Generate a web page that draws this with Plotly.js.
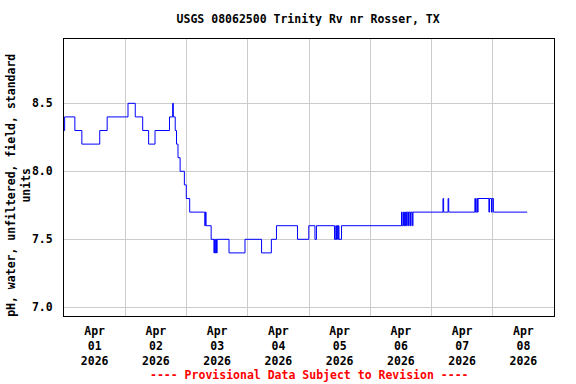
<!DOCTYPE html>
<html>
<head>
<meta charset="utf-8">
<script src="https://cdn.plot.ly/plotly-3.0.1.min.js"></script>
<style>html,body{margin:0;padding:0;background:#fff;}#chart{width:576px;height:384px;}</style>
</head>
<body>
<div id="chart"></div>
<script>
// Step breakpoints of the pH record (value holds until next time)
const times = [
  '2026-04-01 00:00','2026-04-01 00:15','2026-04-01 04:15','2026-04-01 07:00','2026-04-01 14:00','2026-04-01 16:55',
  '2026-04-02 01:05','2026-04-02 03:55','2026-04-02 06:50','2026-04-02 09:10','2026-04-02 11:40','2026-04-02 17:20',
  '2026-04-02 18:35','2026-04-02 18:50','2026-04-02 19:35','2026-04-02 20:05','2026-04-02 20:40','2026-04-02 21:30',
  '2026-04-02 23:10','2026-04-02 23:55',
  '2026-04-03 01:15','2026-04-03 07:10','2026-04-03 07:25','2026-04-03 07:40','2026-04-03 09:40',
  '2026-04-03 10:45','2026-04-03 11:00','2026-04-03 11:15','2026-04-03 11:30','2026-04-03 11:45','2026-04-03 12:00',
  '2026-04-03 16:40','2026-04-03 22:55',
  '2026-04-04 05:25','2026-04-04 09:15','2026-04-04 11:15','2026-04-04 19:30','2026-04-04 23:55',
  '2026-04-05 02:20','2026-04-05 02:55','2026-04-05 10:00','2026-04-05 10:30','2026-04-05 10:45','2026-04-05 11:00',
  '2026-04-05 11:15','2026-04-05 11:30','2026-04-05 11:45','2026-04-05 12:45',
  '2026-04-06 12:15','2026-04-06 12:30','2026-04-06 13:00','2026-04-06 13:15','2026-04-06 13:30','2026-04-06 13:45',
  '2026-04-06 14:00','2026-04-06 14:15','2026-04-06 14:30','2026-04-06 15:00','2026-04-06 15:15','2026-04-06 15:45',
  '2026-04-06 16:00','2026-04-06 16:30','2026-04-06 16:45',
  '2026-04-07 04:30','2026-04-07 04:45','2026-04-07 06:30','2026-04-07 06:45','2026-04-07 17:00','2026-04-07 17:15',
  '2026-04-07 17:45','2026-04-07 18:00','2026-04-07 18:15','2026-04-07 22:30','2026-04-07 22:45','2026-04-07 23:30',
  '2026-04-07 23:45','2026-04-08 00:15','2026-04-08 13:30'
];
const phValues = [
  8.3,8.4,8.3,8.2,8.3,8.4,
  8.5,8.4,8.3,8.2,8.3,8.4,
  8.5,8.4,8.3,8.2,8.1,8.0,
  7.9,7.8,
  7.7,7.6,7.7,7.6,7.5,
  7.4,7.5,7.4,7.5,7.4,7.5,
  7.4,7.5,
  7.4,7.5,7.6,7.5,7.6,
  7.5,7.6,7.5,7.6,7.5,7.6,
  7.5,7.6,7.5,7.6,
  7.7,7.6,7.7,7.6,7.7,7.6,
  7.7,7.6,7.7,7.6,7.7,7.6,
  7.7,7.6,7.7,
  7.8,7.7,7.8,7.7,7.8,7.7,
  7.8,7.7,7.8,7.7,7.8,7.7,
  7.8,7.7,7.7
];
const tickDates = ['2026-04-01 12:00','2026-04-02 12:00','2026-04-03 12:00','2026-04-04 12:00',
                   '2026-04-05 12:00','2026-04-06 12:00','2026-04-07 12:00','2026-04-08 12:00'];
const tickLabels = ['Apr<br>01<br>2026','Apr<br>02<br>2026','Apr<br>03<br>2026','Apr<br>04<br>2026',
                    'Apr<br>05<br>2026','Apr<br>06<br>2026','Apr<br>07<br>2026','Apr<br>08<br>2026'];
const yTicks = [7.0, 7.5, 8.0, 8.5];
const yTickLabels = ['7.0','7.5','8.0','8.5'];
const yTitle = 'pH, water, unfiltered, field, standard<br>units';

const F = {family: '"DejaVu Sans Mono", "Liberation Mono", monospace', size: 11.5, color: '#000', weight: 'bold'};

Plotly.newPlot('chart', [{
  x: times, y: phValues, type: 'scatter', mode: 'lines',
  line: {color: '#0000ff', width: 1, shape: 'hv'}, hoverinfo: 'skip'
}], {
  width: 576, height: 384,
  margin: {l: 64, r: 22, t: 39, b: 68},
  paper_bgcolor: '#fff', plot_bgcolor: '#fff',
  showlegend: false,
  font: F,
  title: {text: 'USGS 08062500 Trinity Rv nr Rosser, TX', font: F, x: 0.535, xanchor: 'center', y: 0.95, yanchor: 'middle'},
  xaxis: {
    type: 'date', range: ['2026-04-01 00:00', '2026-04-09 00:00'],
    tickmode: 'array', tickvals: tickDates, ticktext: tickLabels,
    showgrid: false, ticks: '', tickfont: F, ticklabelstandoff: 4,
    showline: true, mirror: true, linecolor: '#000', linewidth: 1, zeroline: false,
    minor: {tick0: '2026-04-01', dtick: 86400000, showgrid: true, gridcolor: '#cccccc', gridwidth: 1, ticks: ''}
  },
  yaxis: {
    range: [6.936, 8.973], tickmode: 'array', tickvals: yTicks, ticktext: yTickLabels,
    showgrid: true, gridcolor: '#cccccc', gridwidth: 1, ticks: '', tickfont: F, ticklabelstandoff: 8,
    showline: true, mirror: true, linecolor: '#000', linewidth: 1, zeroline: false
  },
  annotations: [{
    text: '---- Provisional Data Subject to Revision ----', xref: 'paper', yref: 'paper',
    x: 0.5, y: -0.213, xanchor: 'center', yanchor: 'middle', showarrow: false,
    font: {family: F.family, size: 11.5, color: '#ff0000', weight: 'bold'}
  }, {
    text: yTitle, xref: 'paper', yref: 'paper', x: -0.0918, y: 0.47,
    xanchor: 'center', yanchor: 'middle', textangle: -90, showarrow: false, font: F
  }]
}, {displayModeBar: false, staticPlot: true});
</script>
</body>
</html>
